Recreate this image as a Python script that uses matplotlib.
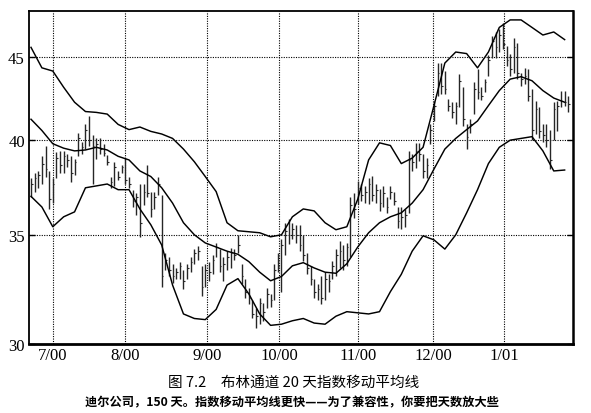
import matplotlib
matplotlib.use("Agg")
import matplotlib.pyplot as plt
from matplotlib.ticker import FixedLocator, NullLocator, FixedFormatter

# ---- data ----
high = [37.9, 38.2, 38.3, 39.1, 39.7, 38.3, 37.9, 39.35, 39.4, 39.4,
        39.2, 39.1, 38.96, 40.4, 39.9, 40.9, 41.4, 40.3, 40.1, 40.1,
        39.8, 39.15, 38.0, 38.8, 38.3, 38.6, 39.0, 38.0, 37.3, 37.1,
        37.6, 37.6, 38.6, 37.2, 37.2, 38.0, 37.0, 34.1, 33.9, 33.6,
        33.4, 33.7, 33.3, 33.6, 33.9, 34.3, 34.45, 33.5, 33.6, 33.7,
        34.0, 34.6, 34.3, 33.9, 34.2, 34.35, 34.3, 35.0, 33.6, 32.9,
        32.45, 31.9, 31.55, 32.0, 31.8, 32.45, 32.2, 33.6, 34.1, 34.8,
        35.6, 35.8, 35.6, 35.5, 35.5, 35.0, 34.1, 33.5, 32.9, 32.65,
        33.0, 33.2, 33.1, 33.75, 34.3, 34.7, 34.5, 34.6, 36.9, 37.1,
        37.75, 37.6, 37.5, 37.9, 38.05, 37.6, 37.35, 37.5, 36.9, 37.5,
        37.2, 36.4, 36.4, 36.3, 39.4, 39.25, 39.85, 39.85, 39.25, 39.0,
        40.95, 42.3, 44.6, 44.6, 44.1, 42.4, 42.2, 42.2, 43.9, 43.1,
        40.95, 41.2, 43.4, 44.25, 43.1, 43.6, 45.1, 46.35, 46.6, 46.8,
        47.2, 45.7, 45.2, 46.2, 45.9, 44.0, 44.3, 44.25, 43.0, 42.25,
        41.9, 40.9, 40.9, 40.6, 42.2, 42.25, 42.9, 42.9, 42.6]
low = [36.9, 37.2, 37.4, 37.6, 38.0, 36.3, 36.6, 37.9, 38.2, 38.2,
       38.5, 37.7, 38.1, 39.1, 39.2, 39.5, 39.7, 37.6, 38.96, 39.2,
       39.1, 38.6, 37.4, 37.5, 37.8, 38.2, 37.6, 37.4, 36.4, 36.0,
       34.9, 36.5, 36.9, 35.9, 36.3, 37.0, 32.5, 33.3, 33.0, 32.7,
       32.9, 32.9, 32.4, 32.9, 33.2, 33.6, 33.8, 32.1, 32.5, 32.8,
       33.1, 33.9, 33.2, 32.8, 33.3, 33.4, 33.8, 34.1, 32.65, 32.0,
       31.75, 31.1, 30.7, 30.85, 31.0, 31.55, 31.6, 31.9, 33.2, 32.3,
       34.0, 34.55, 34.8, 34.6, 34.2, 33.75, 33.1, 32.6, 32.0, 31.9,
       31.75, 31.9, 32.3, 32.9, 33.0, 33.4, 33.3, 33.5, 33.9, 35.85,
       36.55, 36.7, 36.6, 36.55, 36.7, 36.6, 36.2, 36.4, 36.1, 36.8,
       36.5, 35.35, 35.3, 35.4, 36.1, 38.3, 38.45, 38.85, 37.9, 37.9,
       39.8, 41.1, 42.6, 42.7, 42.7, 41.7, 41.3, 40.95, 41.9, 40.8,
       39.5, 40.4, 41.5, 42.4, 42.35, 42.8, 43.8, 44.9, 44.9, 45.3,
       45.5, 44.4, 43.8, 44.0, 43.6, 43.2, 43.3, 42.25, 40.0, 40.35,
       40.1, 39.9, 39.6, 38.4, 40.0, 40.5, 41.9, 42.0, 41.6]
close = [37.6, 37.9, 38.1, 38.7, 38.4, 36.8, 37.6, 39.0, 38.6, 39.1,
         38.9, 38.2, 38.8, 40.1, 39.6, 40.6, 40.0, 39.7, 39.8, 39.5,
         39.3, 38.8, 37.7, 38.5, 38.0, 38.5, 37.8, 37.6, 36.7, 36.9,
         35.6, 37.2, 37.1, 36.3, 36.9, 37.6, 33.0, 33.8, 33.3, 33.0,
         33.2, 33.5, 32.8, 33.4, 33.7, 34.1, 34.2, 32.5, 33.3, 33.2,
         33.8, 34.4, 33.5, 33.6, 33.9, 34.1, 34.0, 34.5, 33.0, 32.3,
         32.0, 31.3, 31.2, 31.8, 31.4, 32.2, 31.9, 33.3, 33.5, 34.5,
         35.2, 35.0, 35.3, 35.0, 34.5, 34.0, 33.4, 32.9, 32.3, 32.4,
         32.0, 32.9, 32.8, 33.5, 34.0, 34.2, 33.8, 34.4, 36.5, 36.3,
         37.4, 37.0, 37.2, 37.6, 37.0, 37.3, 36.6, 37.1, 36.4, 37.2,
         36.7, 35.7, 35.9, 36.0, 38.9, 38.8, 39.4, 39.2, 38.3, 38.6,
         40.6, 42.0, 44.0, 43.2, 43.0, 42.0, 41.6, 42.0, 43.5, 41.2,
         40.2, 40.9, 43.0, 42.8, 42.6, 43.4, 44.8, 46.0, 45.6, 46.4,
         45.8, 44.8, 44.2, 45.6, 44.0, 43.6, 43.8, 42.6, 40.6, 41.8,
         40.5, 40.3, 40.0, 38.9, 41.8, 42.0, 42.3, 42.2, 42.1]

# Bollinger bands, read every 3rd trading day (day 0, 3, 6, ... 147)
band_day = list(range(0, 148, 3))
upper_band = [45.6, 44.3, 44.1, 43.1, 42.2, 41.65, 41.6, 41.5, 40.9, 40.6,
              40.75, 40.5, 40.35, 40.1, 39.5, 38.8, 38.0, 37.2, 35.6, 35.2,
              35.15, 35.1, 34.9, 35.0, 35.9, 36.3, 36.2, 35.6, 35.25, 35.4,
              36.8, 38.9, 39.85, 39.7, 38.7, 39.0, 39.6, 42.0, 44.6, 45.3,
              45.2, 44.3, 45.3, 46.9, 47.4, 47.4, 46.9, 46.4, 46.6, 46.1]
middle_band = [41.2, 40.55, 39.8, 39.55, 39.4, 39.45, 39.6, 39.45, 39.1, 38.9,
               38.3, 38.0, 37.4, 36.6, 35.6, 35.0, 34.6, 34.4, 34.2, 34.05,
               33.7, 33.2, 32.8, 33.0, 33.5, 33.65, 33.4, 33.2, 33.15, 33.6,
               34.4, 35.1, 35.6, 35.9, 36.1, 36.6, 37.3, 38.4, 39.5, 40.1,
               40.6, 41.1, 42.0, 42.9, 43.6, 43.75, 43.5, 42.9, 42.45, 42.2]
lower_band = [36.95, 36.4, 35.4, 35.9, 36.15, 37.4, 37.5, 37.6, 37.3, 37.3,
              36.3, 35.5, 34.5, 32.6, 31.3, 31.1, 31.05, 31.5, 32.6, 32.9,
              32.2, 31.3, 30.8, 30.85, 31.0, 31.1, 30.9, 30.85, 31.2, 31.4,
              31.35, 31.3, 31.4, 32.3, 33.1, 34.2, 34.95, 34.75, 34.3, 35.0,
              36.1, 37.3, 38.7, 39.6, 40.0, 40.1, 40.2, 39.4, 38.3, 38.35]

month_pos = [6.06, 25.9, 48.5, 68.3, 90.1, 110.7, 130.3]
month_labels = ["7/00", "8/00", "9/00", "10/00", "11/00", "12/00", "1/01"]
price_ticks = [30, 35, 40, 45]
price_labels = ["30", "35", "40", "45"]

title_text = "图 7.2　布林通道 20 天指数移动平均线"
subtitle_text = "迪尔公司，150 天。指数移动平均线更快——为了兼容性，你要把天数放大些"

# ---- figure ----
fig = plt.figure(figsize=(5.91, 4.14), dpi=100)
ax = fig.add_axes([29 / 591, 1 - 345 / 414, (573 - 29) / 591, (345 - 12) / 414])

days = list(range(len(high)))
ax.set_yscale("log")
ax.set_ylim(30, 48)
ax.set_xlim(-0.55, 149.3)

# grid
for y in [35, 40, 45]:
    ax.axhline(y, color="black", lw=0.8, ls=(0, (1, 1.2)), zorder=1)
for x in month_pos:
    ax.axvline(x, color="black", lw=0.8, ls=(0, (1, 1.2)), zorder=1)

# price bars
ax.vlines(days, low, high, color="#262626", lw=1.0, zorder=3)
ax.hlines(close, [d for d in days], [d + 0.45 for d in days], color="#262626", lw=0.8, zorder=3)

# bands
for band in (upper_band, middle_band, lower_band):
    ax.plot(band_day, band, color="black", lw=1.05, zorder=4,
            solid_joinstyle="round")

# axes styling
ax.yaxis.set_major_locator(FixedLocator(price_ticks))
ax.yaxis.set_major_formatter(FixedFormatter(price_labels))
ax.yaxis.set_minor_locator(NullLocator())
ax.xaxis.set_major_locator(FixedLocator(month_pos))
ax.xaxis.set_major_formatter(FixedFormatter(month_labels))
ax.xaxis.set_minor_locator(NullLocator())

ax.tick_params(axis="y", which="major", direction="in", length=4, width=1,
               right=True, labelsize=12, pad=3)
ax.tick_params(axis="x", which="major", length=0, labelsize=12, pad=2)
for lab in ax.get_xticklabels() + ax.get_yticklabels():
    lab.set_family("Liberation Serif")

ax.spines["left"].set_linewidth(1.3)
ax.spines["bottom"].set_linewidth(2.0)
ax.spines["right"].set_linewidth(1.8)
ax.spines["top"].set_linewidth(1.3)

fig.text(0.496, 1 - 383 / 414, title_text, ha="center", va="center",
         fontsize=10.5, family=["Noto Sans CJK SC", "DejaVu Sans"])
fig.text(0.494, 1 - 403 / 414, subtitle_text, ha="center", va="center",
         fontsize=8.8, fontweight="bold", family=["Noto Sans CJK SC", "DejaVu Sans"])

fig.savefig("out.png", dpi=100)
